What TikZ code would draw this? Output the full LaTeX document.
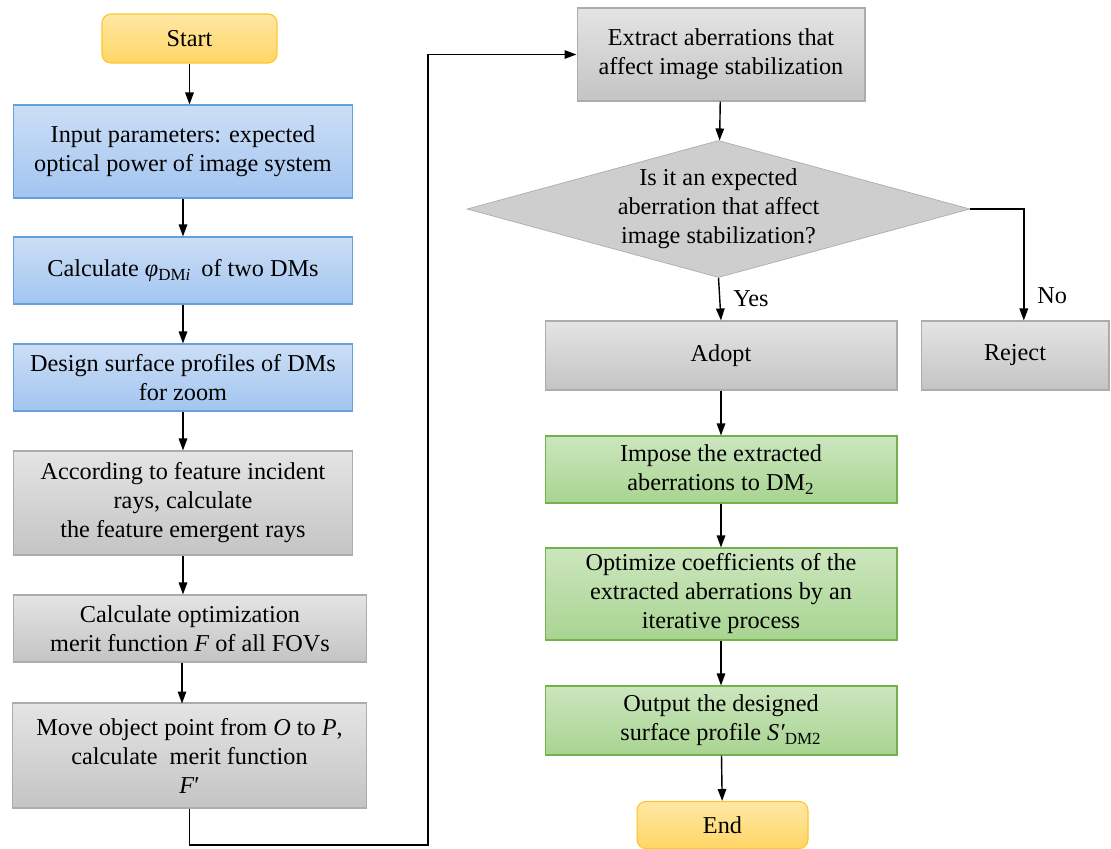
\documentclass[tikz,border=0pt]{standalone}
\usepackage{fontspec}
\setmainfont{Liberation Serif}
\usetikzlibrary{arrows.meta,shapes.geometric}

\definecolor{blueTop}{RGB}{204,222,246}
\definecolor{blueBot}{RGB}{162,197,240}
\definecolor{blueLine}{RGB}{102,160,218}
\definecolor{grayTop}{RGB}{228,228,228}
\definecolor{grayBot}{RGB}{196,196,196}
\definecolor{grayLine}{RGB}{172,172,172}
\definecolor{greenTop}{RGB}{204,230,190}
\definecolor{greenBot}{RGB}{168,212,145}
\definecolor{greenLine}{RGB}{116,176,76}
\definecolor{yelTop}{RGB}{255,232,165}
\definecolor{yelBot}{RGB}{255,214,102}
\definecolor{yelLine}{RGB}{255,196,40}

\begin{document}
\begin{tikzpicture}[x=0.02cm,y=-0.02cm,
    font=\fontsize{13.8}{16.5}\selectfont,
    box/.style={draw,line width=0.6pt,align=center,inner sep=2pt},
    bluebox/.style={box,draw=blueLine,top color=blueTop,bottom color=blueBot},
    graybox/.style={box,draw=grayLine,top color=grayTop,bottom color=grayBot},
    greenbox/.style={box,draw=greenLine,top color=greenTop,bottom color=greenBot},
    termbox/.style={box,rounded corners=5pt,draw=yelLine,top color=yelTop,bottom color=yelBot},
    arr/.style={-{Triangle[length=2.4mm,width=1.7mm]},line width=0.8pt}]
    \useasboundingbox (0,0) rectangle (1111,848);
    % left column
    \node[termbox,minimum width=3.5cm,minimum height=0.98cm] (start) at (189.5,38.5) {Start};
    \node[bluebox,minimum width=6.8cm,minimum height=1.86cm] (inp) at (183,151.5)
        {Input parameters: expected\\optical power of image system};
    \node[bluebox,minimum width=6.8cm,minimum height=1.34cm] (phi) at (183,270.5)
        {Calculate \textit{φ}\textsubscript{DM\textit{i}} \,of two DMs};
    \node[bluebox,minimum width=6.8cm,minimum height=1.34cm] (dsg) at (183,377.5)
        {Design surface profiles of DMs\\for zoom};
    \node[graybox,minimum width=6.8cm,minimum height=2.08cm] (acc) at (183,503)
        {According to feature incident\\rays, calculate\\the feature emergent rays};
    \node[graybox,minimum width=7.08cm,minimum height=1.34cm] (opt) at (190,628.5)
        {Calculate optimization\\merit function \textit{F} of all FOVs};
    \node[graybox,minimum width=7.1cm,minimum height=2.1cm] (mov) at (189.5,755.5)
        {Move object point from \textit{O} to \textit{P},\\calculate \ merit function\\\textit{F}′};
    % right column
    \node[graybox,minimum width=5.76cm,minimum height=1.86cm] (ext) at (721,54.5)
        {Extract aberrations that\\affect image stabilization};
    \node[diamond,draw=grayLine,fill=grayBot!70!grayTop,minimum width=10.06cm,
        minimum height=2.74cm,inner sep=0pt] (dec) at (718.5,209) {};
    \node[align=center] at (dec) {Is it an expected\\aberration that affect\\image stabilization?};
    \node[graybox,minimum width=7.04cm,minimum height=1.38cm] (adp) at (721,355.5) {Adopt};
    \node[graybox,minimum width=3.76cm,minimum height=1.38cm] (rej) at (1015,355.5) {Reject};
    \node[greenbox,minimum width=7.04cm,minimum height=1.34cm] (imp) at (721,469.5)
        {Impose the extracted\\aberrations to DM\textsubscript{2}};
    \node[greenbox,minimum width=7.04cm,minimum height=1.84cm] (optz) at (721,594)
        {Optimize coefficients of the\\extracted aberrations by an\\iterative process};
    \node[greenbox,minimum width=7.04cm,minimum height=1.38cm] (out) at (721,720.5)
        {Output the designed\\surface profile \textit{S′}\textsubscript{DM2}};
    \node[termbox,minimum width=3.42cm,minimum height=0.94cm] (endn) at (722.5,825) {End};
    \coordinate (bend) at (428,845);

    \draw[arr] (start.south) -- (start.south |- inp.north);
    \draw[arr] (inp) -- (phi);
    \draw[arr] (phi) -- (dsg);
    \draw[arr] (dsg) -- (acc);
    \draw[arr] (acc.south) -- (acc.south |- opt.north);
    \draw[arr] (opt.south) ++(-8,0) -- ++(0,41);
    \draw[arr] (mov.south) |- (bend) |- (ext.west);
    \draw[arr] (ext) -- (dec);
    \draw[arr] (dec.south) -- node[right,xshift=4pt] {Yes} (adp.north);
    \draw[arr] (dec.east) -| node[pos=0.89,right,xshift=4pt] {No} ([xshift=5pt]rej.north);
    \draw[arr] (adp) -- (imp);
    \draw[arr] (imp) -- (optz);
    \draw[arr] (optz) -- (out);
    \draw[arr] (out) -- (endn);
\end{tikzpicture}
\end{document}
